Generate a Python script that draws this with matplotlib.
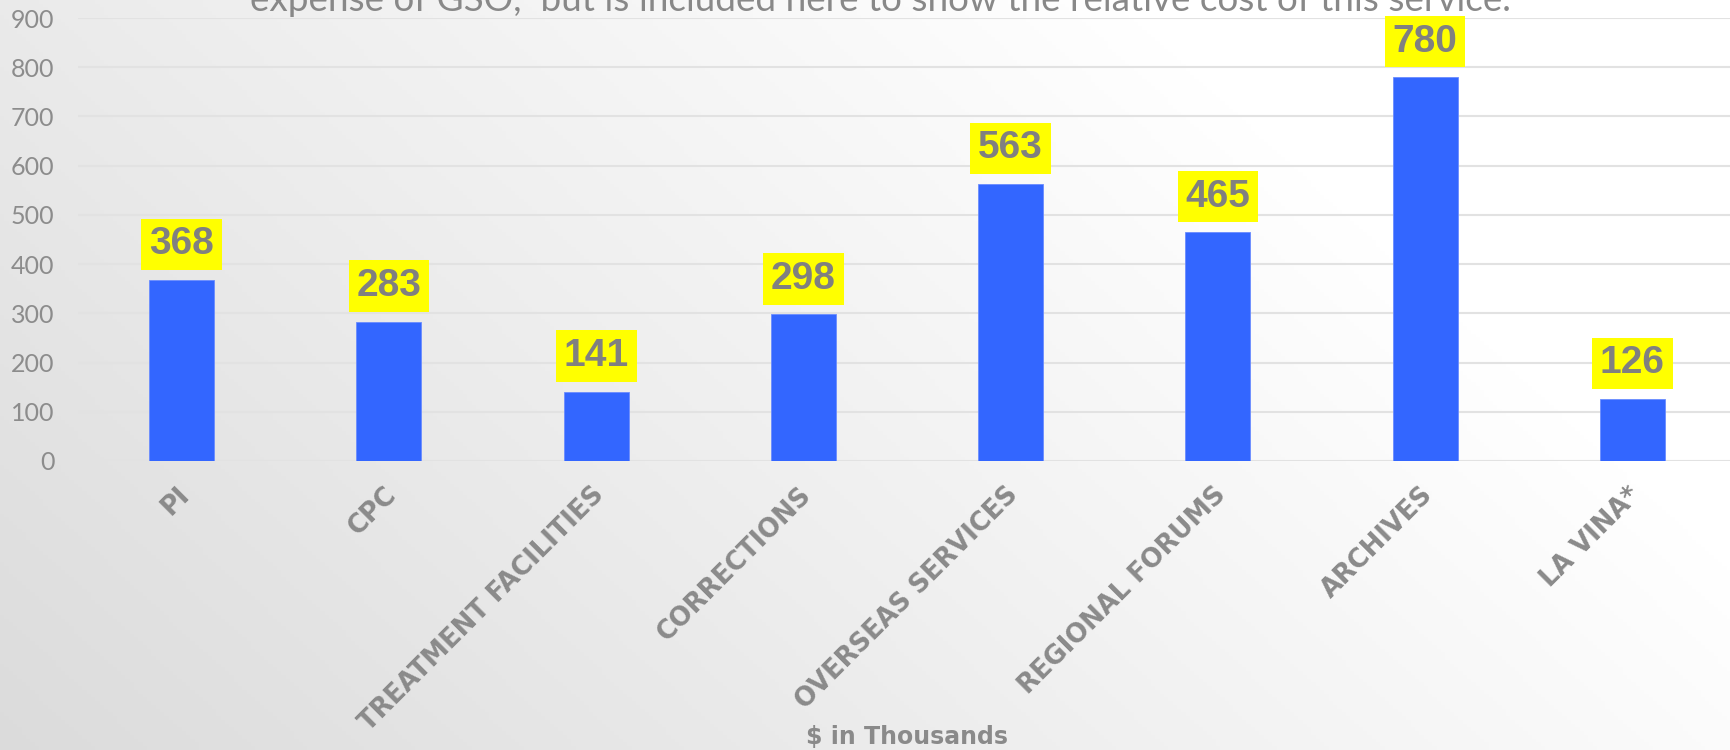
import numpy as np
import matplotlib
matplotlib.use("Agg")
import matplotlib.pyplot as plt
from matplotlib import transforms

# data
categories = ["PI", "CPC", "TREATMENT FACILITIES", "CORRECTIONS",
              "OVERSEAS SERVICES", "REGIONAL FORUMS", "ARCHIVES", "LA VINA*"]
values = [368, 283, 141, 298, 563, 465, 780, 126]
yticks = [0, 100, 200, 300, 400, 500, 600, 700, 800, 900]
note = "expense of GSO,  but is included here to show the relative cost of this service."
xlabel = "$ in Thousands"

W, H = 1731, 750
fig = plt.figure(figsize=(W / 100, H / 100), dpi=100)

# background gradient (grey bottom-left -> white right)
bg = fig.add_axes([0, 0, 1, 1])
gx, gy = np.meshgrid(np.linspace(0, 1, 400), np.linspace(1, 0, 200))
u = np.clip((0.75 * gx + 0.35 * gy) * 1.2, 0, 1)
shade = 0.86 + 0.14 * u
bg.imshow(np.dstack([shade, shade, shade]), aspect="auto", extent=[0, 1, 0, 1])
bg.axis("off")

ax = fig.add_axes([78 / W, (H - 461) / H, (1736 - 78) / W, (461 - 18) / H])
ax.patch.set_alpha(0)

x = np.arange(len(categories))
ax.bar(x, values, width=0.314, color="#3366ff", edgecolor="#6a8cff", linewidth=0.6, zorder=3)

ax.set_xlim(-0.5, 7.5)
ax.set_ylim(0, 900)
ax.set_yticks(yticks)
ax.set_yticklabels([str(t) for t in yticks], fontfamily="Lato", fontweight="normal",
                   fontsize=18, color="#8c8c8c")
ax.tick_params(axis="y", length=0, pad=17)
ax.set_xticks([])
ax.grid(axis="y", color="#e2e2e2", linewidth=1.5, zorder=0)
for s in ax.spines.values():
    s.set_visible(False)

# value labels in yellow boxes
for xi, v in zip(x, values):
    ax.annotate(str(v), (xi, v), xytext=(0, 25.6), textcoords="offset points",
                ha="center", va="center", fontsize=28, fontweight="bold",
                fontfamily="Liberation Sans", color="#808080", zorder=5,
                bbox=dict(boxstyle="square,pad=0.2", fc="#ffff00", ec="none"))

# rotated category labels
lab_tr = transforms.offset_copy(ax.get_xaxis_transform(), fig=fig, x=9, y=-35, units="dots")
for xi, c in zip(x, categories):
    ax.text(xi, 0, c, transform=lab_tr, rotation=45, rotation_mode="anchor",
            ha="right", va="baseline", fontsize=18.5, fontweight="bold",
            fontfamily="DejaVu Sans", color="#8a8a8a", clip_on=False)

fig.text(907 / W, 6 / H, xlabel, ha="center", va="baseline", fontsize=17,
         fontweight="bold", fontfamily="DejaVu Sans", color="#8a8a8a")

fig.text(880 / W, (H - 11) / H, note, ha="center", va="baseline", fontsize=26.6,
         fontfamily="Lato", fontweight="normal", color="#888888")

fig.savefig("out.png", dpi=100)
